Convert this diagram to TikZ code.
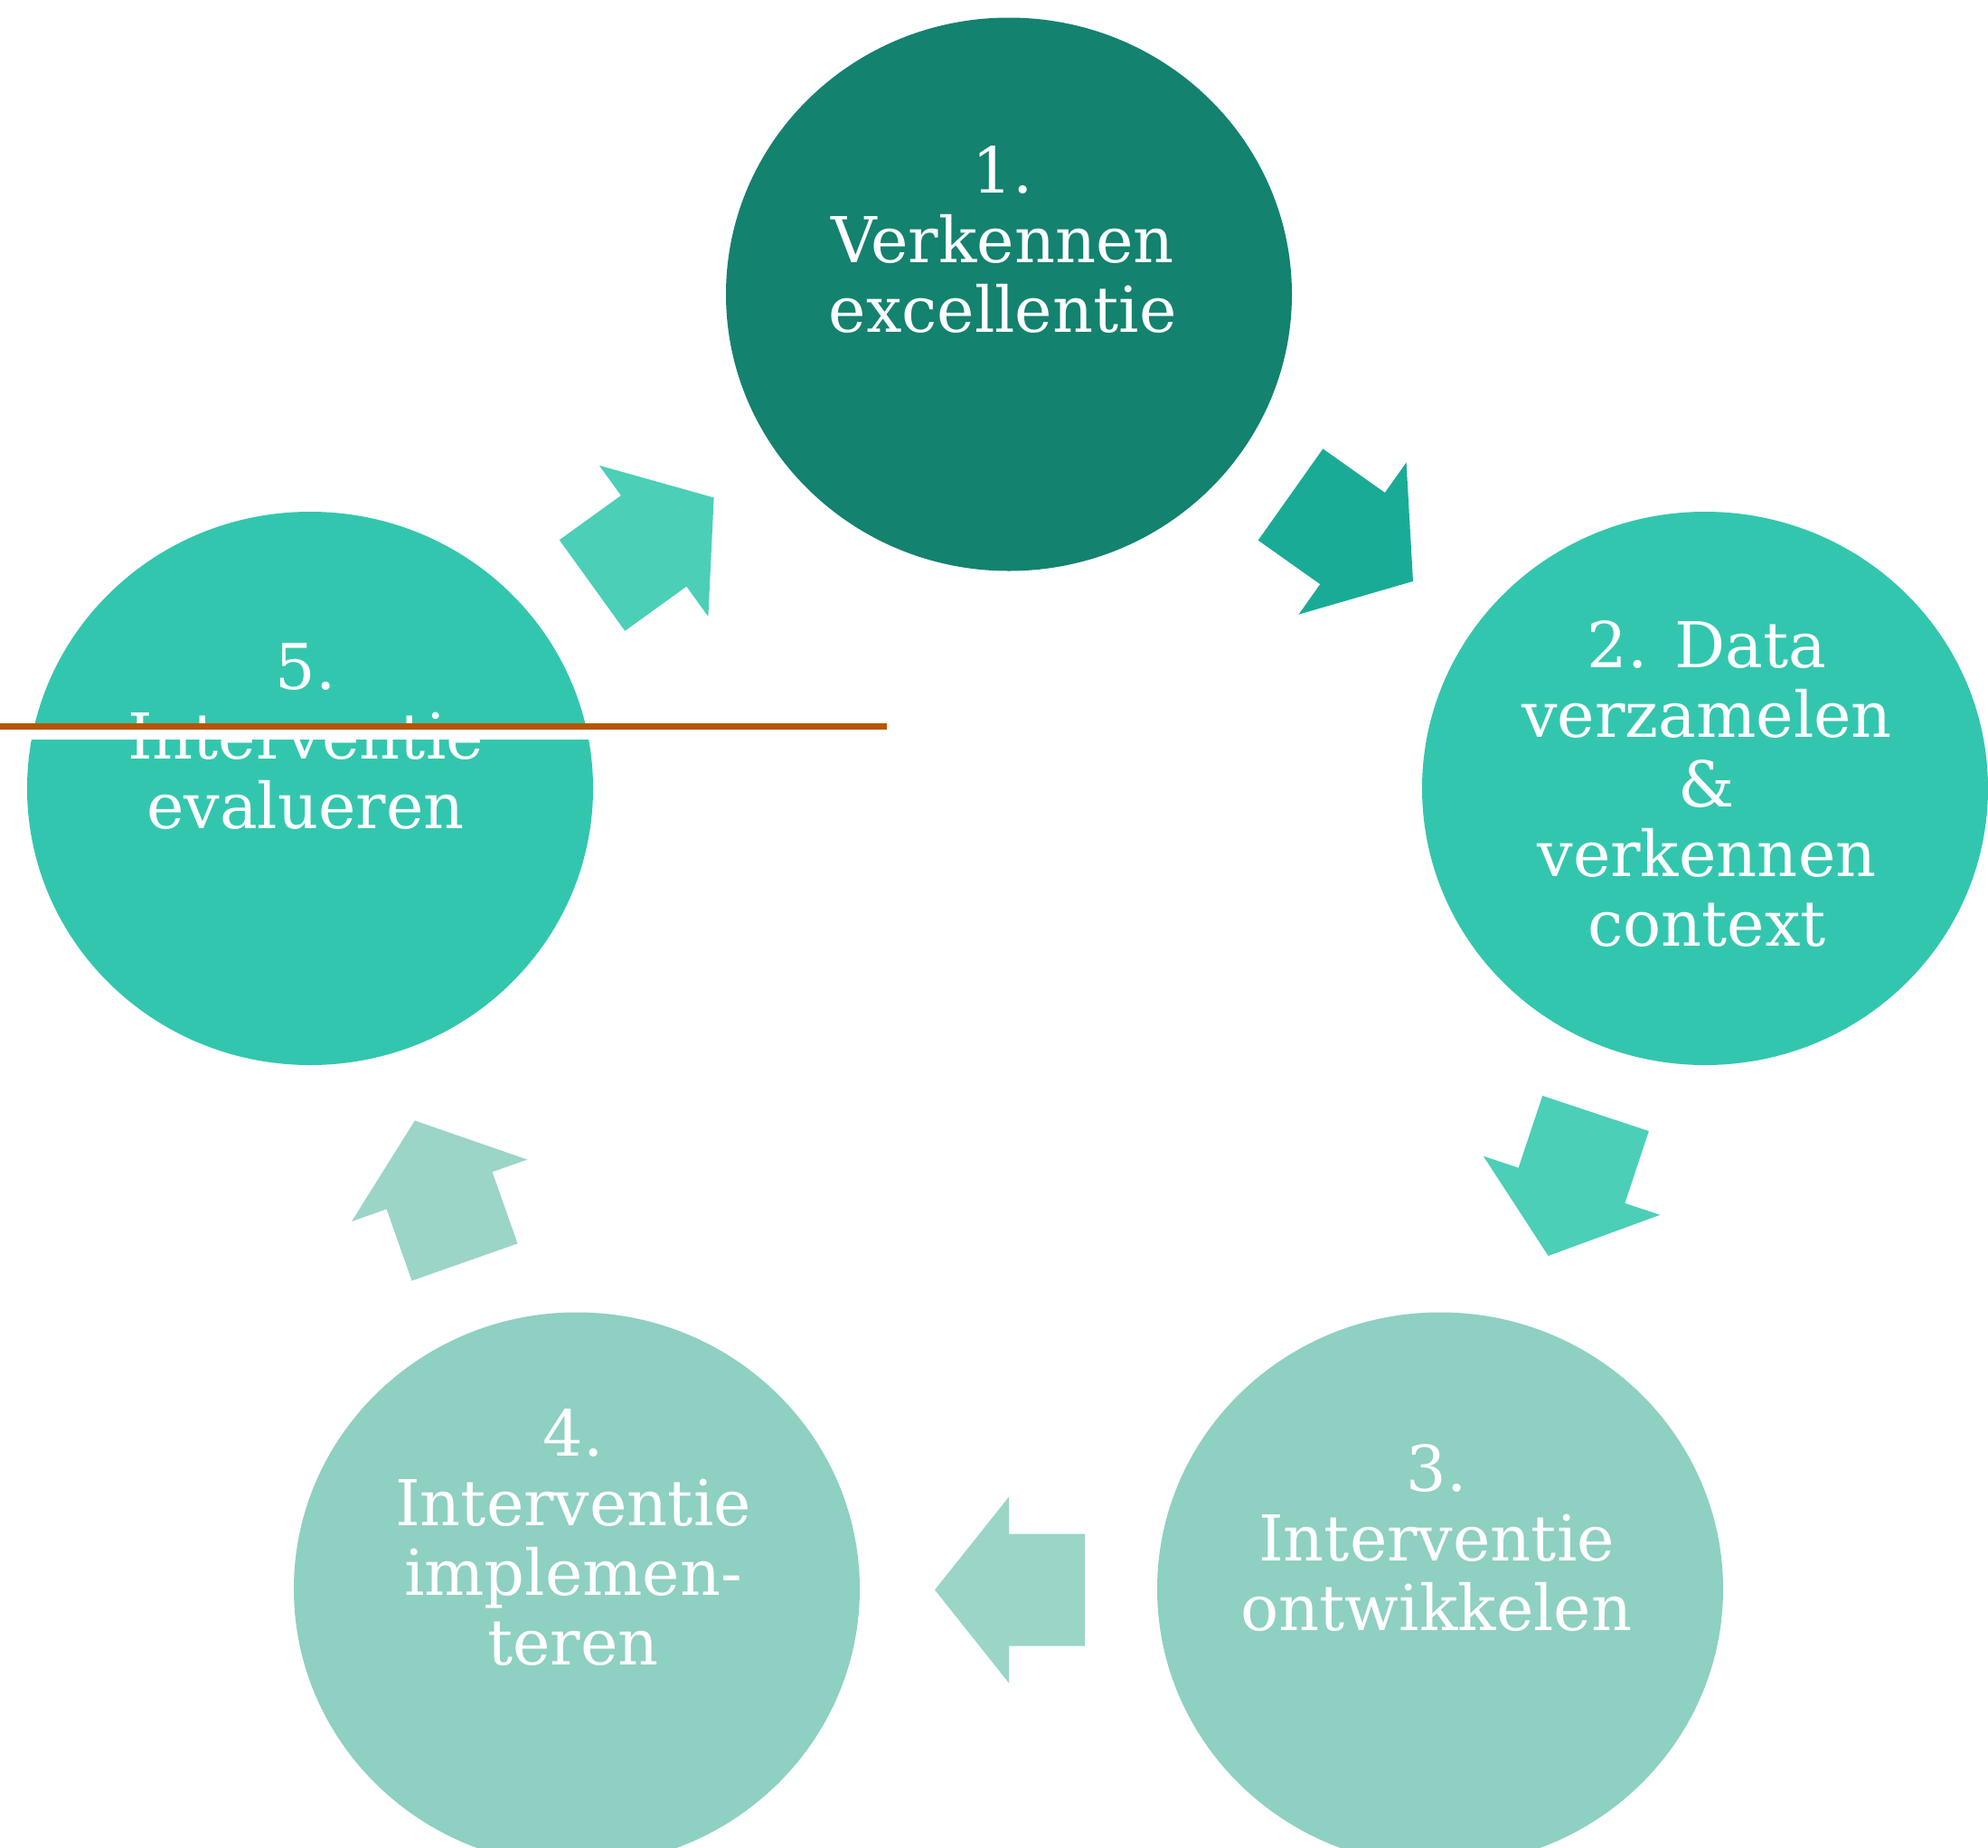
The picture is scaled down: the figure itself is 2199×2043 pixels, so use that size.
\documentclass[tikz,border=0pt]{standalone}
\usepackage{fontspec}
\setmainfont{DejaVu Serif}
\usetikzlibrary{shapes.geometric}
\definecolor{cdark}{HTML}{13826F}
\definecolor{cmid}{HTML}{33C6AE}
\definecolor{clight}{HTML}{8ED0C1}
\definecolor{adark}{HTML}{1AAB96}
\definecolor{amid}{HTML}{4BCFB7}
\definecolor{alight}{HTML}{9AD5C8}
\definecolor{orangeline}{HTML}{B85500}
\tikzset{
  disc/.style={ellipse, minimum width=626pt, minimum height=612pt, inner sep=0pt, draw=none, fill=#1},
  lbl/.style={text=white, align=center, font=\fontsize{70}{77}\selectfont, inner sep=0pt, anchor=base},
}
\newcommand\cyclearrow[4]{%
  \fill[#1, shift={(#2,#3)}, rotate={-(#4)}] (0,-62) -- (84,-62) -- (84,-103) -- (166,0) -- (84,103) -- (84,62) -- (0,62) -- cycle;
}
\begin{document}
\begin{tikzpicture}[x=1pt,y=-1pt]
\useasboundingbox (0,0) rectangle (2199,2043);
\clip (0,0) rectangle (2199,2043);
% circles
\node[disc=cdark]  (c1) at (1116,325.5) {};
\node[disc=cmid]   (c2) at (1886,872) {};
\node[disc=clight] (c3) at (1593,1757.5) {};
\node[disc=clight] (c4) at (638,1757.5) {};
\node[disc=cmid]   (c5) at (343,872) {};
% arrows
\cyclearrow{adark}{1427.5}{547}{35.3}
\cyclearrow{amid}{1765}{1231.5}{108.4}
\cyclearrow{alight}{1200}{1758.5}{180}
\cyclearrow{alight}{514}{1396}{-109.4}
\cyclearrow{amid}{655}{647.5}{-35.8}
% labels (anchor = baseline of the last line)
\node[lbl] (t1) at (1109,367) {1.\\Verkennen\\excellentie};
\node[lbl] (t2) at (1888,1046) {2. Data\\verzamelen\\\&\\verkennen\\context};
\node[lbl] (t3) at (1589,1803) {3.\\Interventie\\ontwikkelen};
\node[lbl] (t4) at (634,1841) {4.\\Interventie\\implemen-\\teren};
\node[lbl] (t5) at (338,916) {5.\\Interventie\\evalueren};
% line across
\fill[white] (0,800) rectangle (981,818);
\fill[orangeline] (0,800) rectangle (981,807);
\end{tikzpicture}
\end{document}
